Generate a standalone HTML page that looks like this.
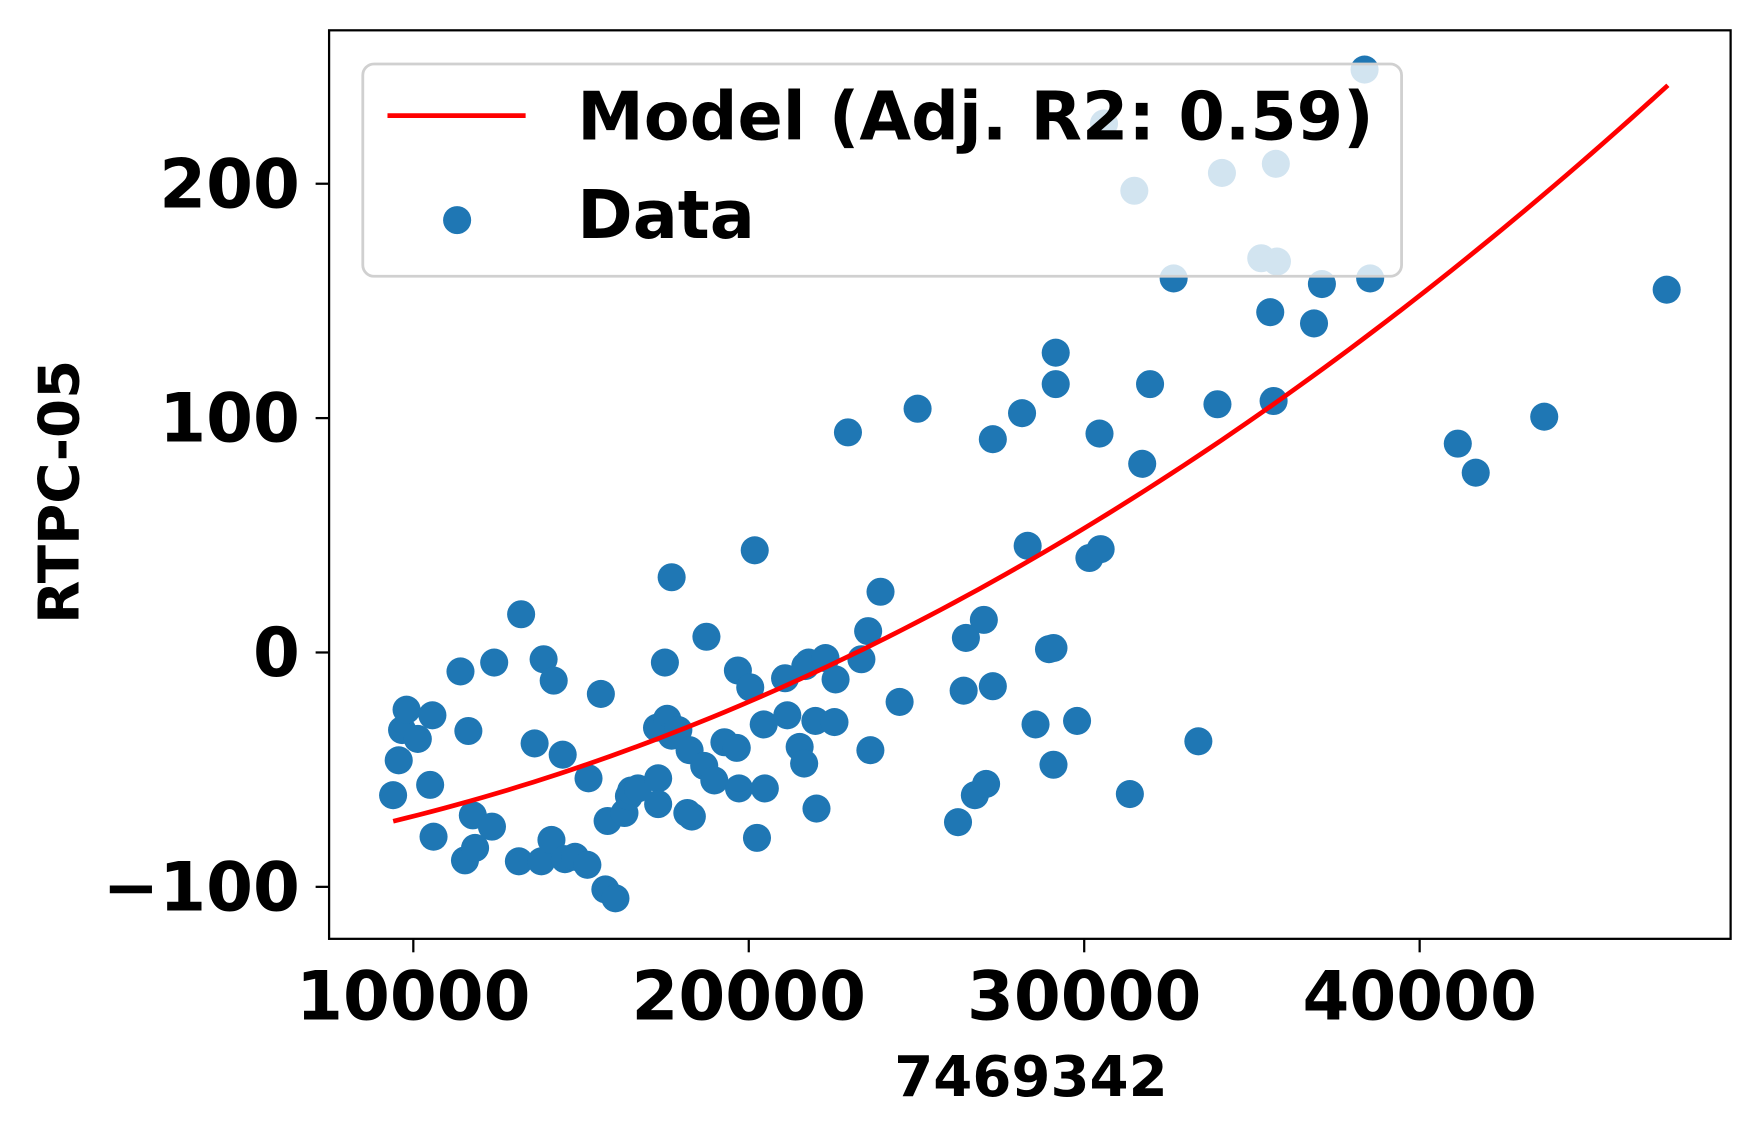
<!DOCTYPE html>
<html><head><meta charset="utf-8"><style>
html,body{margin:0;padding:0;background:#fff;}
svg{display:block;font-family:"DejaVu Sans","Liberation Sans",sans-serif;font-weight:bold;}
</style></head><body>
<svg id="chart" width="1752" height="1132" viewBox="0 0 1560 1008" xmlns="http://www.w3.org/2000/svg">
<rect x="0" y="0" width="1560" height="1008" fill="#fff"/>
<g id="marks"></g>
<g id="axes"></g>
<g id="legend">
  <rect x="323" y="57" width="925" height="189" rx="10" fill="#fff" fill-opacity="0.8" stroke="#d0d0d0" stroke-width="2.5"/>
  <line x1="345" y1="103" x2="468" y2="103" stroke="#ff0000" stroke-width="4.2"/>
  <text x="514" y="124" font-size="59.5">Model (Adj. R2: 0.59)</text>
  <circle cx="407" cy="196" r="12.5" fill="#1f77b4"/>
  <text x="514" y="212" font-size="59.5">Data</text>
</g>
<text x="918" y="976" font-size="50" text-anchor="middle">7469342</text>
<text transform="translate(70,438) rotate(-90)" font-size="50" text-anchor="middle">RTPC-05</text>
</svg>
<script>
const xValues=[9397,9565,9665,9799,10134,10502,10569,10603,11406,11540,11641,11774,11841,12344,12411,13147,13214,13616,13817,13884,14118,14185,14453,14520,14821,15189,15223,15591,15725,15792,16026,16294,16428,16495,16696,17265,17299,17299,17500,17567,17701,17701,17901,18236,18303,18169,18672,18738,18973,19274,19642,19676,19709,20044,20178,20245,20446,20479,21082,21149,21517,21651,21685,21785,21986,22019,22287,22555,22588,22957,23358,23559,23626,23928,24497,25033,26238,26406,26473,26740,27008,27075,27276,27276,28147,28314,28549,28950,29084,29084,29151,29151,29787,30155,30456,30490,31361,31729,31963,33403,33972,35546,35646,36851,37086,38525,41137,41672,43714,47364,31494,32666,34106,35278,35713,35746,38358,30590];
const yValues=[-60.9,-46.0,-33.1,-24.4,-36.9,-56.5,-26.8,-78.6,-8.1,-88.7,-33.5,-69.5,-83.4,-74.3,-4.3,-89.1,16.3,-38.8,-89.1,-2.9,-80.0,-12.0,-43.6,-88.2,-87.2,-90.6,-53.7,-17.7,-101.1,-71.9,-104.9,-68.5,-61.3,-58.9,-58.0,-32.1,-53.7,-64.7,-4.3,-28.3,32.1,-35.5,-33.1,-41.7,-70.0,-68.5,-48.4,6.7,-54.6,-38.3,-40.7,-7.7,-58.0,-14.9,43.6,-79.1,-30.7,-58.0,-11.0,-26.8,-40.3,-47.4,-5.8,-4.3,-29.2,-66.6,-2.4,-29.7,-11.5,93.9,-2.9,9.1,-41.7,25.9,-21.1,104.0,-72.4,-16.3,6.2,-60.9,13.9,-56.1,91.0,-14.4,102.1,45.5,-30.7,1.4,1.9,-47.9,127.9,114.5,-29.2,40.3,93.4,44.1,-60.4,80.5,114.5,-37.9,105.9,145.2,107.3,140.4,157.2,159.6,89.1,76.7,100.6,154.8,197.0,159.6,204.6,168.2,208.5,166.8,248.7,225.7];
const modelCoef=[-93.46,1.097,0.12616]; // y = a + b*u + c*u^2, u = x/1000
const modelRange=[9400,47400];
const xTicks=[10000,20000,30000,40000];
const xTickLabels=["10000","20000","30000","40000"];
const yTicks=[-100,0,100,200];
const yTickLabels=["\u2212100","0","100","200"];

const NS="http://www.w3.org/2000/svg";
const AX={l:293,r:1541,t:27,b:836};
function X(v){return 368+(v-10000)*0.02987;}
function Y(v){return 581-v*2.087;}
function mk(tag,attrs,parent){const e=document.createElementNS(NS,tag);for(const k in attrs)e.setAttribute(k,attrs[k]);parent.appendChild(e);return e;}
const marks=document.getElementById('marks');
for(let i=0;i<xValues.length;i++){
  const c=mk('circle',{cx:X(xValues[i]),cy:Y(yValues[i]),r:12.5,fill:'#1f77b4'},marks);
  
  
}
let d='';
for(let k=0;k<=100;k++){
  const x=modelRange[0]+(modelRange[1]-modelRange[0])*k/100;const u=x/1000;
  const y=modelCoef[0]+modelCoef[1]*u+modelCoef[2]*u*u;
  d+=(k?'L':'M')+X(x).toFixed(2)+' '+Y(y).toFixed(2);
}
const line=mk('path',{d:d,fill:'none',stroke:'#ff0000','stroke-width':4.2},marks);



const axes=document.getElementById('axes');
const frame=mk('rect',{x:AX.l,y:AX.t,width:AX.r-AX.l,height:AX.b-AX.t,fill:'none',stroke:'#000','stroke-width':2},axes);


xTicks.forEach((v,i)=>{
  const t=mk('line',{x1:X(v),x2:X(v),y1:AX.b,y2:AX.b+12,stroke:'#000','stroke-width':2},axes);
  
  
  const l=mk('text',{x:X(v),y:AX.b+72,'font-size':60,'text-anchor':'middle'},axes);
  l.textContent=xTickLabels[i];
  
  
});
yTicks.forEach((v,i)=>{
  const t=mk('line',{x1:AX.l-12,x2:AX.l,y1:Y(v),y2:Y(v),stroke:'#000','stroke-width':2},axes);
  
  
  const l=mk('text',{x:AX.l-26,y:Y(v)+21,'font-size':60,'text-anchor':'end'},axes);
  l.textContent=yTickLabels[i];
  
  
});
</script>
</body></html>
